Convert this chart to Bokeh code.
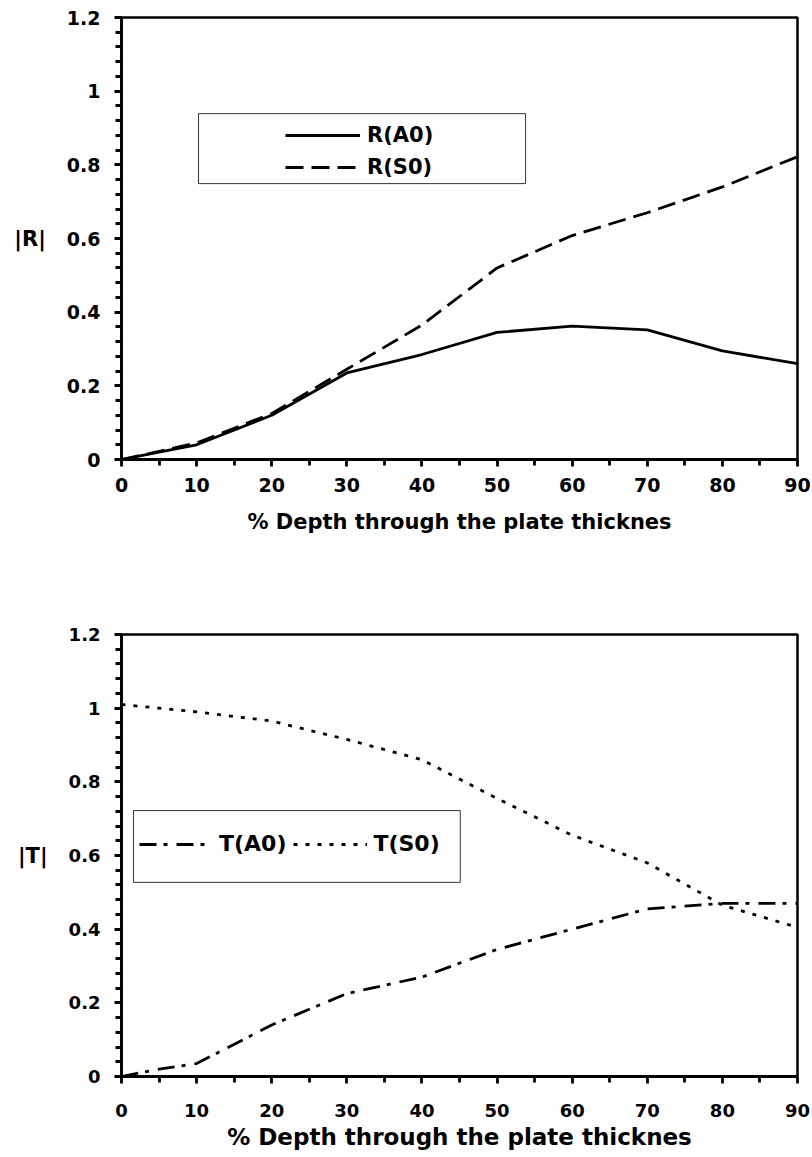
from bokeh.plotting import figure
from bokeh.models import Legend, LegendItem, BoxAnnotation, FixedTicker
from bokeh.layouts import column
from bokeh.embed import file_html
from bokeh.resources import INLINE

# ---- data ----
depth = [0, 5, 10, 20, 30, 40, 50, 60, 70, 80, 90]
r_a0 = [0.0, 0.02, 0.04, 0.12, 0.235, 0.285, 0.345, 0.362, 0.352, 0.295, 0.26]
r_s0 = [0.0, 0.022, 0.045, 0.125, 0.245, 0.365, 0.52, 0.608, 0.67, 0.74, 0.822]

depth_t = [0, 5, 10, 20, 30, 40, 50, 60, 70, 80, 90]
t_a0 = [0.0, 0.02, 0.035, 0.14, 0.225, 0.27, 0.345, 0.40, 0.455, 0.47, 0.47]
t_s0 = [1.01, 1.0, 0.99, 0.965, 0.915, 0.86, 0.755, 0.655, 0.58, 0.465, 0.405]

x_ticks = [0, 10, 20, 30, 40, 50, 60, 70, 80, 90]
y_ticks = [0, 0.2, 0.4, 0.6, 0.8, 1.0, 1.2]
y_tick_labels = ["0", "0.2", "0.4", "0.6", "0.8", "1", "1.2"]
x_title = "% Depth through the plate thicknes"

FONT = "'DejaVu Sans', sans-serif"


def make_fig(ylabel, top_border, bottom_border, tick_size, title_size,
             tick_standoff, title_standoff):
    p = figure(frame_width=676, frame_height=442, x_range=(0, 90), y_range=(0, 1.2),
               min_border_top=top_border, min_border_left=121, min_border_right=15,
               min_border_bottom=bottom_border, output_backend="svg",
               toolbar_location=None,
               background_fill_color="white", border_fill_color="white")
    p.xgrid.visible = False
    p.ygrid.visible = False
    p.outline_line_color = "black"
    p.outline_line_width = 2.5
    p.outline_line_alpha = 1.0

    p.xaxis.ticker = FixedTicker(ticks=x_ticks,
                                 minor_ticks=[v + 5 for v in x_ticks[:-1]])
    yminor = [round(i * 0.04, 2) for i in range(31)]
    p.yaxis.ticker = FixedTicker(ticks=y_ticks, minor_ticks=yminor)

    for ax in (p.xaxis[0], p.yaxis[0]):
        ax.axis_line_color = "black"
        ax.axis_line_width = 2.8
        ax.major_tick_line_color = "black"
        ax.major_tick_line_width = 2.8
        ax.minor_tick_line_color = "black"
        ax.minor_tick_line_width = 2.8
        ax.major_tick_in = 0
        ax.major_tick_out = 7
        ax.minor_tick_in = 0
        ax.minor_tick_out = 6
        ax.major_label_text_font = FONT
        ax.major_label_text_font_size = tick_size
        ax.major_label_text_font_style = "bold"
        ax.major_label_text_color = "black"
        ax.axis_label_text_font = FONT
        ax.axis_label_text_font_style = "bold"
        ax.axis_label_text_color = "black"

    p.xaxis.major_label_overrides = {v: str(v) for v in x_ticks}
    p.yaxis.major_label_overrides = dict(zip(y_ticks, y_tick_labels))
    p.xaxis.major_label_standoff = tick_standoff
    p.yaxis.major_label_standoff = 14
    p.xaxis.axis_label = x_title
    p.xaxis.axis_label_text_font_size = title_size
    p.xaxis.axis_label_standoff = title_standoff
    p.yaxis.axis_label = ylabel
    p.yaxis.axis_label_orientation = "horizontal"
    p.yaxis.axis_label_text_font_size = "21px"
    p.yaxis.axis_label_standoff = 18
    return p


# ---- top chart ----
p1 = make_fig("|R|", 17, 85, "19px", "21px", 11, 15)
ra = p1.line(depth, r_a0, line_color="black", line_width=2.8)
rs = p1.line(depth, r_s0, line_color="black", line_width=2.8, line_dash="18 8")
p1.add_layout(BoxAnnotation(left=10.25, right=53.8, bottom=0.749, top=0.939,
                            fill_alpha=0, line_color="black", line_width=1,
                            line_alpha=0.8))
leg1 = Legend(items=[LegendItem(label="R(A0)", renderers=[ra]),
                     LegendItem(label="R(S0)", renderers=[rs])],
              location=(164, 280), orientation="vertical", padding=0, margin=0,
              spacing=8, glyph_width=75, glyph_height=24, label_height=24,
              label_standoff=7, label_text_font=FONT, label_text_color="black",
              label_text_font_size="21px", label_text_font_style="bold",
              border_line_alpha=0, background_fill_alpha=0)
p1.add_layout(leg1)

# ---- bottom chart ----
p2 = make_fig("|T|", 90, 60, "18px", "23px", 20, 4)
ta = p2.line(depth_t, t_a0, line_color="black", line_width=2.8,
             line_dash="17 7 4 9")
ts = p2.line(depth_t, t_s0, line_color="black", line_width=2.8, line_dash="4 8")
p2.add_layout(BoxAnnotation(left=1.6, right=45.1, bottom=0.527, top=0.722,
                            fill_alpha=0, line_color="black", line_width=1,
                            line_alpha=0.8))
leg2 = Legend(items=[LegendItem(label="T(A0)", renderers=[ta]),
                     LegendItem(label="T(S0)", renderers=[ts])],
              location=(18, 220), orientation="horizontal", padding=0, margin=0,
              spacing=7, glyph_width=74, glyph_height=24, label_height=24,
              label_standoff=6, label_text_font=FONT, label_text_color="black",
              label_text_font_size="22px", label_text_font_style="bold",
              border_line_alpha=0, background_fill_alpha=0)
p2.add_layout(leg2)

layout = column(p1, p2, spacing=0)
open("out.html", "w").write(file_html(layout, INLINE))
